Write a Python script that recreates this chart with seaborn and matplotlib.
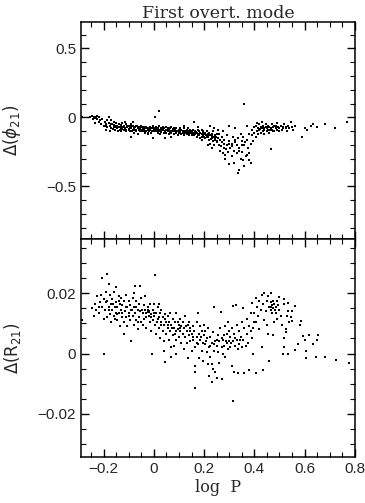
import numpy as np
import pandas as pd
import matplotlib
matplotlib.use("Agg")
import matplotlib.pyplot as plt
import seaborn as sns
from matplotlib.ticker import MultipleLocator

# --- top panel: Delta(phi21) vs log P ---
phi_x = [
    -0.285, -0.255,
    -0.245, -0.24, -0.235, -0.23, -0.225, -0.22, -0.215, -0.21, -0.205, -0.20, -0.235, -0.225,
    -0.195, -0.19, -0.185, -0.18, -0.18, -0.175, -0.17, -0.17, -0.165, -0.16, -0.16, -0.155, -0.155,
    -0.15, -0.15, -0.19, -0.175,
    -0.145, -0.145, -0.14, -0.14, -0.09, -0.135, -0.13, -0.13, -0.125, -0.125, -0.12, -0.12, -0.115,
    -0.11, -0.11, -0.105, -0.10, -0.10, -0.13, -0.115,
    -0.095, -0.095, -0.09, -0.09, -0.085, -0.085, -0.08, -0.08, -0.075, -0.075, -0.07, -0.07, -0.065,
    -0.065, -0.06, -0.06, -0.055, -0.055, -0.05, -0.05, -0.085,
    -0.045, -0.045, -0.04, -0.04, -0.035, -0.035, -0.03, -0.03, -0.025, -0.025, -0.02, -0.02, -0.015,
    -0.015, -0.01, -0.01, -0.005, -0.005, 0.0, -0.005,
    0.005, 0.005, 0.01, 0.01, 0.015, 0.015, 0.02, 0.02, 0.025, 0.025, 0.03, 0.03, 0.035, 0.035, 0.04,
    0.04, 0.045, 0.045, 0.05, 0.05, 0.02, 0.005,
    0.055, 0.055, 0.06, 0.06, 0.065, 0.065, 0.07, 0.07, 0.075, 0.075, 0.08, 0.08, 0.085, 0.085, 0.09,
    0.09, 0.095, 0.095, 0.10, 0.10, 0.07,
    0.105, 0.105, 0.11, 0.11, 0.115, 0.115, 0.12, 0.12, 0.125, 0.125, 0.13, 0.13, 0.135, 0.135, 0.14,
    0.14, 0.145, 0.145, 0.15, 0.15, 0.12,
    0.155, 0.155, 0.16, 0.16, 0.165, 0.165, 0.17, 0.17, 0.175, 0.175, 0.18, 0.18, 0.185, 0.185, 0.19,
    0.19, 0.195, 0.195, 0.20, 0.20, 0.175, 0.19,
    0.205, 0.205, 0.21, 0.21, 0.215, 0.215, 0.22, 0.22, 0.225, 0.225, 0.23, 0.23, 0.235, 0.235, 0.24,
    0.24, 0.245, 0.245, 0.25, 0.25, 0.225, 0.24, 0.215, 0.23,
    0.255, 0.26, 0.26, 0.265, 0.27, 0.27, 0.275, 0.28, 0.28, 0.285, 0.29, 0.29, 0.295, 0.30, 0.30,
    0.305, 0.255, 0.275, 0.30, 0.285,
    0.31, 0.31, 0.315, 0.32, 0.32, 0.325, 0.33, 0.33, 0.335, 0.335, 0.34, 0.34, 0.345, 0.345, 0.35,
    0.35, 0.325, 0.36,
    0.355, 0.355, 0.36, 0.36, 0.365, 0.37, 0.37, 0.375, 0.38, 0.38, 0.385, 0.385, 0.39, 0.39, 0.395,
    0.40, 0.40, 0.37,
    0.405, 0.405, 0.41, 0.41, 0.415, 0.415, 0.42, 0.42, 0.425, 0.425, 0.43, 0.43, 0.435, 0.435, 0.44,
    0.44, 0.445, 0.445, 0.45, 0.45,
    0.455, 0.455, 0.46, 0.46, 0.465, 0.465, 0.47, 0.47, 0.475, 0.48, 0.48, 0.485, 0.49, 0.49, 0.495,
    0.50, 0.50,
    0.505, 0.51, 0.515, 0.52, 0.525, 0.53, 0.535, 0.54, 0.545, 0.55, 0.555, 0.56,
    0.59, 0.60, 0.61, 0.625, 0.635, 0.65, 0.68, 0.72, 0.77,
    # denser part of the band
    -0.2425, -0.2175, -0.1925, -0.1875, -0.1725, -0.1625, -0.1575, -0.1475, -0.1425, -0.1325,
    -0.1275, -0.1175, -0.1125, -0.1075, -0.0975, -0.0925, -0.0875, -0.0775, -0.0725, -0.0675,
    -0.0575, -0.0525, -0.0475, -0.0425, -0.0375, -0.0275, -0.0225, -0.0175, -0.0075, -0.0025,
    0.0075, 0.0125, 0.0175, 0.0275, 0.0325, 0.0425, 0.0475, 0.0575, 0.0625, 0.0725,
    0.0775, 0.0875, 0.0925, 0.1025, 0.1075, 0.1175, 0.1225, 0.1325, 0.1375, 0.1475,
    0.1525, 0.1625, 0.1675, 0.1775, 0.1825, 0.1925, 0.1975, 0.2075, 0.2125, 0.2175,
    0.2275, 0.2325, 0.2425, 0.2475, 0.2525, 0.2625, 0.2675, 0.2775, 0.2875, 0.2975,
    0.3125, 0.3225, 0.3375, 0.3525, 0.3625, 0.3775, 0.4225, 0.4375, 0.4625, 0.4725,
    0.4875, 0.5125, 0.5275,
]
phi_y = [
    0.005, 0.0,
    0.01, 0.0, -0.005, 0.005, -0.01, 0.0, -0.02, -0.045, -0.01, -0.06, -0.04, 0.01,
    -0.03, -0.05, -0.07, 0.005, -0.04, -0.06, -0.02, -0.08, -0.05, -0.07, -0.03, -0.06, -0.09,
    -0.04, -0.07, -0.09, -0.10,
    -0.06, -0.08, -0.05, -0.07, -0.145, -0.09, -0.06, -0.08, -0.04, -0.07, -0.09, -0.06, -0.08,
    -0.05, -0.10, -0.07, -0.09, -0.06, -0.10, -0.03,
    -0.07, -0.10, -0.08, -0.05, -0.09, -0.06, -0.08, -0.11, -0.07, -0.09, -0.10, -0.06, -0.08,
    -0.12, -0.09, -0.07, -0.10, -0.08, -0.06, -0.09, -0.03,
    -0.08, -0.10, -0.07, -0.09, -0.11, -0.08, -0.10, -0.07, -0.09, -0.12, -0.08, -0.10, -0.07,
    -0.09, -0.11, -0.08, -0.10, -0.06, -0.09, -0.15,
    -0.08, -0.10, -0.09, -0.07, -0.11, -0.08, -0.10, -0.06, -0.09, -0.12, -0.08, -0.10, -0.07, -0.09,
    -0.11, -0.08, -0.10, -0.15, -0.09, -0.07, 0.045, 0.005,
    -0.10, -0.08, -0.09, -0.12, -0.08, -0.10, -0.07, -0.11, -0.09, -0.10, -0.08, -0.12, -0.10, -0.09,
    -0.11, -0.08, -0.10, -0.13, -0.09, -0.11, -0.14,
    -0.10, -0.08, -0.12, -0.09, -0.11, -0.10, -0.08, -0.13, -0.10, -0.11, -0.09, -0.12, -0.10, -0.08,
    -0.11, -0.13, -0.10, -0.09, -0.12, -0.10, -0.06,
    -0.11, -0.09, -0.13, -0.03, -0.10, -0.12, -0.11, -0.14, -0.09, -0.12, -0.10, -0.13, -0.11, -0.15,
    -0.12, -0.09, -0.13, -0.10, -0.12, -0.14, -0.07, -0.16,
    -0.11, -0.15, -0.13, -0.10, -0.14, -0.12, -0.16, -0.11, -0.13, -0.19, -0.12, -0.15, -0.17, -0.10,
    -0.14, -0.20, -0.13, -0.16, -0.12, -0.18, -0.06, -0.08, -0.20, -0.22,
    -0.15, -0.20, -0.12, -0.24, -0.18, -0.14, -0.26, -0.22, -0.16, -0.30, -0.20, -0.13, -0.25, -0.17,
    -0.34, -0.22, -0.09, -0.10, -0.06, -0.27,
    -0.19, -0.28, -0.14, -0.24, -0.33, -0.18, -0.20, -0.26, -0.15, -0.40, -0.38, -0.22, -0.30, -0.12,
    -0.17, -0.25, -0.08, 0.095,
    -0.14, -0.31, -0.20, -0.35, -0.28, -0.16, -0.27, -0.22, -0.31, -0.12, -0.33, -0.19, -0.13, -0.09,
    -0.17, -0.11, -0.07, -0.06,
    -0.14, -0.06, -0.10, -0.04, -0.08, -0.12, -0.05, -0.09, -0.07, -0.11, -0.08, -0.03, -0.10, -0.06,
    -0.09, -0.12, -0.07, -0.05, -0.08, -0.10,
    -0.06, -0.09, -0.07, -0.11, -0.08, -0.23, -0.05, -0.09, -0.07, -0.10, -0.06, -0.08, -0.04, -0.09,
    -0.07, -0.08, -0.10,
    -0.06, -0.09, -0.07, -0.05, -0.08, -0.10, -0.06, -0.08, -0.03, -0.07, -0.09, -0.06,
    -0.145, -0.08, -0.09, -0.06, -0.05, -0.07, -0.05, -0.075, -0.035,
    # denser part of the band
    -0.015, -0.03, -0.06, -0.02, -0.045, -0.085, -0.055, -0.075, -0.095, -0.055,
    -0.085, -0.07, -0.09, -0.06, -0.085, -0.065, -0.10, -0.075, -0.09, -0.065,
    -0.085, -0.10, -0.07, -0.085, -0.095, -0.08, -0.11, -0.085, -0.095, -0.075,
    -0.085, -0.10, -0.09, -0.105, -0.085, -0.095, -0.11, -0.09, -0.105, -0.095,
    -0.085, -0.115, -0.095, -0.105, -0.12, -0.095, -0.11, -0.105, -0.12, -0.11,
    -0.13, -0.115, -0.105, -0.125, -0.115, -0.14, -0.11, -0.125, -0.145, -0.13,
    -0.155, -0.135, -0.15, -0.14, -0.17, -0.16, -0.21, -0.19, -0.23, -0.19,
    -0.21, -0.16, -0.24, -0.20, -0.18, -0.26, -0.085, -0.075, -0.09, -0.10,
    -0.065, -0.08, -0.07,
]

# --- bottom panel: Delta(R21) vs log P ---
r21_x = [
    -0.288, -0.245, -0.238, -0.235, -0.23, -0.225, -0.22, -0.215, -0.21, -0.208, -0.205, -0.20, -0.20, -0.20,
    -0.195, -0.19, -0.188, -0.185, -0.185, -0.18, -0.18, -0.175, -0.175, -0.17, -0.17, -0.165, -0.165,
    -0.16, -0.16, -0.155, -0.155, -0.15, -0.15, -0.15,
    -0.145, -0.145, -0.14, -0.14, -0.135, -0.135, -0.13, -0.13, -0.125, -0.125, -0.12, -0.12, -0.117,
    -0.115, -0.11, -0.11, -0.105, -0.105, -0.10, -0.10,
    -0.095, -0.095, -0.09, -0.09, -0.085, -0.085, -0.08, -0.08, -0.075, -0.075, -0.07, -0.07, -0.065,
    -0.065, -0.06, -0.06, -0.055, -0.055, -0.05, -0.05, -0.08,
    -0.045, -0.045, -0.04, -0.04, -0.035, -0.035, -0.03, -0.03, -0.025, -0.025, -0.02, -0.02, -0.018,
    -0.015, -0.015, -0.01, -0.01, -0.008, -0.005, -0.005, 0.0, 0.0,
    0.005, 0.005, 0.01, 0.01, 0.015, 0.015, 0.02, 0.02, 0.025, 0.025, 0.03, 0.03, 0.035, 0.035, 0.04,
    0.04, 0.045, 0.045, 0.05, 0.05, 0.02, 0.04,
    0.055, 0.055, 0.06, 0.06, 0.065, 0.065, 0.07, 0.07, 0.075, 0.075, 0.08, 0.08, 0.085, 0.085, 0.09,
    0.09, 0.095, 0.095, 0.10, 0.10, 0.07, 0.09,
    0.105, 0.105, 0.11, 0.11, 0.115, 0.115, 0.12, 0.12, 0.125, 0.125, 0.13, 0.13, 0.135, 0.135, 0.14,
    0.14, 0.145, 0.145, 0.15, 0.15,
    0.155, 0.155, 0.165, 0.16, 0.165, 0.165, 0.17, 0.17, 0.175, 0.175, 0.18, 0.18, 0.185, 0.185, 0.19,
    0.19, 0.195, 0.195, 0.20, 0.20, 0.165,
    0.205, 0.205, 0.21, 0.21, 0.215, 0.215, 0.22, 0.22, 0.225, 0.225, 0.23, 0.23, 0.235, 0.235, 0.24,
    0.24, 0.245, 0.245, 0.25, 0.25, 0.23,
    0.255, 0.255, 0.26, 0.26, 0.265, 0.267, 0.27, 0.27, 0.275, 0.275, 0.28, 0.28, 0.285, 0.285, 0.29,
    0.29, 0.295, 0.295, 0.30, 0.30,
    0.305, 0.305, 0.31, 0.31, 0.315, 0.315, 0.315, 0.32, 0.32, 0.325, 0.328, 0.33, 0.33, 0.335, 0.335,
    0.34, 0.34, 0.345, 0.35, 0.35,
    0.355, 0.355, 0.36, 0.36, 0.365, 0.37, 0.37, 0.375, 0.38, 0.38, 0.385, 0.385, 0.39, 0.39, 0.395,
    0.395, 0.40, 0.40,
    0.405, 0.405, 0.408, 0.41, 0.415, 0.42, 0.42, 0.425, 0.43, 0.43, 0.435, 0.435, 0.44, 0.44, 0.445,
    0.45, 0.45,
    0.455, 0.455, 0.46, 0.46, 0.465, 0.465, 0.465, 0.47, 0.47, 0.475, 0.475, 0.475, 0.48, 0.48, 0.485,
    0.485, 0.49, 0.49, 0.495, 0.50, 0.50,
    0.505, 0.51, 0.515, 0.517, 0.517, 0.52, 0.52, 0.525, 0.527, 0.53, 0.535, 0.535, 0.535, 0.54, 0.545,
    0.55, 0.55,
    0.56, 0.56, 0.575, 0.58, 0.585, 0.595, 0.60, 0.604, 0.604, 0.617, 0.635, 0.645, 0.648, 0.652, 0.68,
    0.724, 0.775,
    # denser part of the cloud
    -0.2175, -0.1925, -0.1775, -0.1625, -0.1475, -0.1375, -0.1275, -0.1125, -0.0975, -0.0875,
    -0.0725, -0.0625, -0.0475, -0.0325, -0.0225, -0.0125, 0.0025, 0.0125, 0.0275, 0.0425,
    0.0575, 0.0725, 0.0875, 0.1025, 0.1175, 0.1275, 0.1425, 0.1575, 0.1725, 0.1875,
    0.2075, 0.2225, 0.2375, 0.2525, 0.2725, 0.2875, 0.3075, 0.3225, 0.3425, 0.4675,
    0.4775, 0.4825,
]
r21_y = [
    0.011, 0.015, 0.0125, 0.0165, 0.0145, 0.019, 0.0135, 0.017, 0.0195, 0.025, 0.0155, -0.0002, 0.0115, 0.018,
    0.0145, 0.0205, 0.0263, 0.0175, 0.012, 0.023, 0.0155, 0.0195, 0.013, 0.0165, 0.0105, 0.018, 0.0145,
    0.0125, 0.0205, 0.0155, 0.0115, 0.0219, 0.017, 0.0135,
    0.0155, 0.011, 0.019, 0.0135, 0.0165, 0.009, 0.0145, 0.0185, 0.012, 0.016, 0.0105, 0.0175, 0.0064,
    0.014, 0.0195, 0.012, 0.0155, 0.009, 0.0135, 0.0175,
    0.011, 0.016, 0.0041, 0.0145, 0.0185, 0.0125, 0.0095, 0.0155, 0.0224, 0.0135, 0.011, 0.0175, 0.0145,
    0.008, 0.0165, 0.012, 0.0224, 0.014, 0.0105, 0.0185, 0.02,
    0.0135, 0.0095, 0.016, 0.0115, 0.0145, 0.019, 0.012, 0.0085, 0.0138, 0.0155, 0.0138, 0.0125, 0.0142,
    0.0105, 0.0165, 0.013, 0.0075, -0.0003, 0.0145, 0.011, 0.0125, 0.0165,
    0.0262, 0.0095, 0.0135, 0.0065, 0.0115, 0.0155, 0.0085, 0.012, 0.0135, 0.005, 0.0105, 0.0145, 0.0075,
    0.012, 0.001, 0.0095, -0.0028, 0.013, 0.0065, 0.0105, 0.0165, 0.004,
    0.0085, 0.0125, 0.0045, 0.0105, 0.0075, 0.0135, 0.002, 0.0095, 0.006, 0.0115, 0.0085, 0.0025, 0.0105,
    0.0065, 0.0135, 0.0045, 0.008, 0.0105, 0.0055, 0.0095, -0.001, 0.0,
    0.0075, 0.0115, 0.0035, 0.009, 0.0065, 0.0105, 0.0015, 0.0085, 0.0055, 0.0125, 0.0075, 0.0035, 0.0095,
    -0.0015, 0.006, 0.0105, 0.004, 0.0085, 0.0065, 0.001,
    0.009, 0.0045, -0.0113, 0.0075, 0.002, -0.004, 0.0055, 0.0105, 0.0135, 0.003, 0.0065, -0.0015, 0.0045,
    0.009, 0.001, 0.0075, 0.0035, -0.0025, 0.006, 0.0095, -0.006,
    0.003, 0.0075, 0.0005, 0.005, -0.0035, 0.0085, 0.002, -0.0075, 0.0055, -0.001, 0.0035, -0.0095, 0.007,
    -0.005, 0.0155, 0.001, 0.004, -0.006, 0.0025, -0.008, -0.0035,
    0.006, 0.0005, -0.003, 0.004, 0.0085, 0.0138, 0.002, -0.0085, 0.0045, 0.0, 0.006, 0.0025, 0.009,
    -0.001, 0.0035, 0.0065, 0.0015, 0.0105, 0.004, 0.0075,
    0.0055, 0.002, 0.0085, -0.004, -0.0158, 0.0158, 0.004, 0.0065, -0.006, 0.0025, 0.016, 0.0045, 0.0095,
    0.0015, -0.0065, 0.0075, 0.003, 0.0055, 0.002, 0.0105,
    0.0152, 0.0045, 0.0085, -0.0065, 0.0025, 0.0065, 0.0115, 0.0035, -0.0055, 0.009, 0.0135, 0.0075, 0.005,
    0.0167, 0.0, 0.0085, 0.0135, 0.0105,
    -0.0064, 0.0185, 0.0105, 0.0155, 0.0125, 0.0175, 0.008, 0.0145, 0.0022, 0.0193, -0.0053, 0.0165, 0.011,
    0.02, 0.014, 0.0175, 0.0095,
    0.0066, 0.019, -0.0026, 0.0155, 0.02, 0.017, 0.0145, 0.0162, 0.0135, 0.006, 0.0175, 0.015, 0.0104,
    0.0165, 0.0155, 0.0135, 0.0175, 0.0115, 0.016, 0.0187, 0.0145,
    0.0125, 0.0095, -0.0003, 0.0022, 0.005, 0.018, 0.0163, 0.0072, 0.008, 0.0125, 0.0167, 0.014, -0.0003,
    0.0105, 0.012, 0.0108, 0.014,
    0.0157, 0.0013, 0.0033, 0.0094, 0.0108, 0.0057, 0.0044, 0.0008, -0.0015, 0.006, 0.003, -0.0013, 0.0046,
    0.006, -0.001, -0.0022, -0.0033,
    # denser part of the cloud
    0.0155, 0.017, 0.0145, 0.0165, 0.013, 0.0175, 0.0135, 0.0155, 0.0125, 0.0145,
    0.0155, 0.0105, 0.0145, 0.0135, 0.0145, 0.012, 0.0135, 0.0105, 0.0095, 0.0115,
    0.0095, 0.0085, 0.0075, 0.0085, 0.0065, 0.009, 0.0075, 0.0055, 0.0035, 0.0055,
    0.004, 0.0025, 0.003, 0.0045, 0.005, 0.004, 0.0035, 0.005, 0.0045, 0.0155,
    0.0165, 0.0145,
]

df_phi = pd.DataFrame({"logP": phi_x, "dphi": phi_y})
df_r = pd.DataFrame({"logP": r21_x, "dr": r21_y})

sns.set_theme(style="ticks")
plt.rcParams["font.family"] = ["Liberation Sans", "DejaVu Sans"]
plt.rcParams["mathtext.fontset"] = "dejavusans"

fig = plt.figure(figsize=(3.65, 5.03), dpi=100)
ax1 = fig.add_axes([0.222, 0.525, 0.750, 0.431])
ax2 = fig.add_axes([0.222, 0.0915, 0.750, 0.4335], sharex=ax1)

sns.scatterplot(data=df_phi, x="logP", y="dphi", ax=ax1, color="black",
                marker="s", s=3.5, linewidth=0, legend=False)
sns.scatterplot(data=df_r, x="logP", y="dr", ax=ax2, color="black",
                marker="s", s=3.5, linewidth=0, legend=False)

ax1.set_xlim(-0.29, 0.80)
ax1.set_ylim(-0.88, 0.69)
ax2.set_ylim(-0.0343, 0.038)

ax1.yaxis.set_major_locator(MultipleLocator(0.5))
ax1.yaxis.set_minor_locator(MultipleLocator(0.1))
ax2.yaxis.set_major_locator(MultipleLocator(0.02))
ax2.yaxis.set_minor_locator(MultipleLocator(0.005))
ax2.xaxis.set_major_locator(MultipleLocator(0.2))
ax2.xaxis.set_minor_locator(MultipleLocator(0.05))

ax1.set_yticks([-0.5, 0, 0.5])
ax1.set_yticklabels(["\u22120.5", "0", "0.5"])
ax2.set_yticks([-0.02, 0, 0.02])
ax2.set_yticklabels(["\u22120.02", "0", "0.02"])
ax2.set_xticks([-0.2, 0, 0.2, 0.4, 0.6, 0.8])
ax2.set_xticklabels(["\u22120.2", "0", "0.2", "0.4", "0.6", "0.8"])

for ax in (ax1, ax2):
    for sp in ax.spines.values():
        sp.set_linewidth(1.1)
        sp.set_color("black")
    ax.tick_params(which="both", direction="in", top=True, right=True,
                   color="black", labelsize=11)
    ax.tick_params(which="major", length=6, width=1.0)
    ax.tick_params(which="minor", length=3.5, width=0.8)
ax1.tick_params(labelbottom=False)

ax1.set_xlabel("")
ax1.set_ylabel(r"$\Delta(\phi_{21})$", fontsize=12)
ax2.set_ylabel(r"$\Delta(\mathrm{R}_{21})$", fontsize=12)
ax1.yaxis.set_label_coords(-0.213, 0.5)
ax2.yaxis.set_label_coords(-0.213, 0.5)
ax2.set_xlabel("log  P", fontsize=11.5, family=["DejaVu Serif"], labelpad=2)
ax1.set_title("First overt. mode", fontsize=12.5, family=["DejaVu Serif"], pad=3)

fig.savefig("out.png", dpi=100)
